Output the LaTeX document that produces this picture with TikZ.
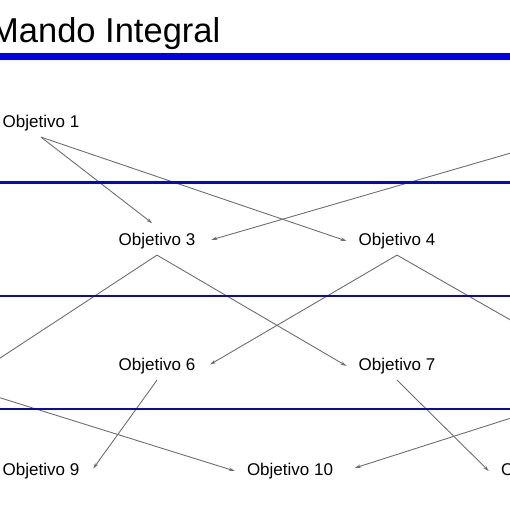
\documentclass[tikz,border=0pt]{standalone}
\usepackage{fontspec}
\setmainfont{Liberation Sans}
\usetikzlibrary{arrows.meta}
\definecolor{barblue}{RGB}{0,0,225}
\definecolor{lineblue}{RGB}{10,10,180}
\definecolor{linkgray}{RGB}{110,110,110}
\begin{document}
\begin{tikzpicture}[x=1pt,y=-1pt,>={Stealth[length=6pt,width=3.5pt]},
    obj/.style={font=\fontsize{17}{20}\selectfont,inner xsep=12pt,inner ysep=6pt},
    band/.style={draw=lineblue,line width=2.5pt},
    link/.style={->,draw=linkgray,line width=0.9pt}]
    \useasboundingbox (0,0) rectangle (510,510);
    \clip (0,0) rectangle (510,510);
    \node[anchor=base west,inner sep=0,font=\fontsize{34.5}{40}\selectfont] (title) at (-10,42.7) {Mando Integral};
    % objetivos
    \node[obj] (o1) at (41,123) {Objetivo 1};
    \node[obj] (o3) at (157,241) {Objetivo 3};
    \node[obj] (o4) at (397,241) {Objetivo 4};
    \node[obj] (o6) at (157,366) {Objetivo 6};
    \node[obj] (o7) at (397,366) {Objetivo 7};
    \node[obj] (o9) at (41,471) {Objetivo 9};
    \node[obj] (o10) at (290,471) {Objetivo 10};
    \node[obj] (o12) at (544,471) {Objetivo 12};
    % ends off the page
    \coordinate (o2) at (566,137);
    \coordinate (o5a) at (-6,362);
    \coordinate (o5b) at (-57,380);
    \coordinate (o8) at (584,362);
    \coordinate (o11) at (630,380);
    \draw[link,shorten >=6pt] (o1.south)--(o3.north);
    \draw[link] (o1.south)--(o4.west);
    \draw[link,shorten >=4pt] (o2)--(o3.east);
    \draw[link] (o3.south)--(o5a);
    \draw[link] (o3.south)--(o7.west);
    \draw[link,shorten >=3pt] (o4.south)--(o6.east);
    \draw[link] (o4.south)--(o8);
    \draw[link] (o5b)--(o10.west);
    \draw[link,shorten >=3pt] (o6.south)--(o9.east);
    \draw[link] (o7.south)--(o12.west);
    \draw[link,shorten >=10pt] (o11)--(o10.east);
    % bands
    \draw[draw=barblue,line width=6.5pt] (0,56.5)--(510,56.5);
    \foreach \y in {182.5,296,409}\draw[band] (0,\y)--(510,\y);
\end{tikzpicture}
\end{document}
